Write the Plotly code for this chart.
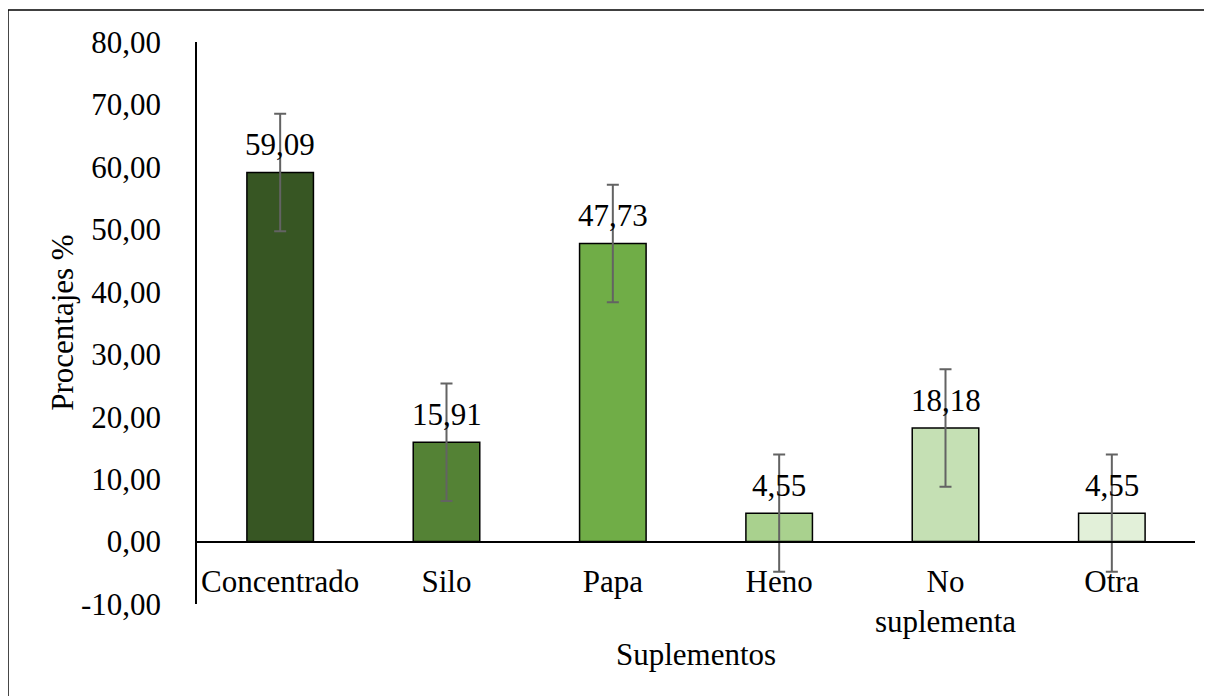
import plotly.graph_objects as go

categories = ["Concentrado", "Silo", "Papa", "Heno", "No<br>suplementa", "Otra"]
values = [59.09, 15.91, 47.73, 4.55, 18.18, 4.55]
value_labels = ["59,09", "15,91", "47,73", "4,55", "18,18", "4,55"]
errors = [9.4, 9.4, 9.4, 9.4, 9.4, 9.4]
bar_colors = ["#375623", "#548235", "#70AD47", "#A9D18E", "#C5E0B4", "#E2F0D9"]
y_tickvals = [-10, 0, 10, 20, 30, 40, 50, 60, 70, 80]
y_ticktext = ["-10,00", "0,00", "10,00", "20,00", "30,00", "40,00", "50,00", "60,00", "70,00", "80,00"]

FONT = "Liberation Serif, Times New Roman, serif"
FS = 31

fig = go.Figure()
fig.add_trace(go.Bar(
    x=categories, y=values, width=0.4,
    marker=dict(color=bar_colors, line=dict(color="black", width=1.5)),
    error_y=dict(type="data", array=errors, visible=True, color="#636363", thickness=2, width=6),
    hoverinfo="skip",
))

for c, v, t in zip(categories, values, value_labels):
    fig.add_annotation(x=c, y=v, text=t, showarrow=False, yanchor="middle", yshift=28,
                       font=dict(family=FONT, size=FS, color="black"))

fig.add_annotation(xref="paper", yref="paper", x=-0.1355, y=0.5, text="Procentajes %",
                   textangle=-90, showarrow=False, xanchor="center", yanchor="middle",
                   font=dict(family=FONT, size=FS, color="black"))
fig.add_annotation(xref="paper", yref="paper", x=0.5, y=-0.089, text="Suplementos",
                   showarrow=False, xanchor="center", yanchor="middle",
                   font=dict(family=FONT, size=FS, color="black"))

# outer chart frame (top and left edges visible in the reference)
fig.add_shape(type="line", xref="paper", yref="paper", x0=-0.1894, y0=1.0569, x1=1.3, y1=1.0569,
              line=dict(color="black", width=1.5), layer="above")
fig.add_shape(type="line", xref="paper", yref="paper", x0=-0.1894, y0=-0.3, x1=-0.1894, y1=1.0569,
              line=dict(color="black", width=1.5), layer="above")

fig.update_layout(
    width=1204, height=688,
    margin=dict(l=189, r=17, t=34, b=92),
    paper_bgcolor="white", plot_bgcolor="white",
    showlegend=False,
    font=dict(family=FONT, size=FS, color="black"),
    xaxis=dict(range=[-0.5, 5.5], anchor="free", position=10 / 90,
               showline=True, linecolor="black", linewidth=1.5,
               showgrid=False, zeroline=False, ticks="", ticklabelstandoff=12,
               tickfont=dict(family=FONT, size=FS, color="black")),
    yaxis=dict(range=[-10, 80], tickvals=y_tickvals, ticktext=y_ticktext,
               showline=True, linecolor="black", linewidth=1.5,
               showgrid=False, zeroline=False, ticks="", ticklabelstandoff=28,
               tickfont=dict(family=FONT, size=FS, color="black")),
)

fig.write_html("out.html")
